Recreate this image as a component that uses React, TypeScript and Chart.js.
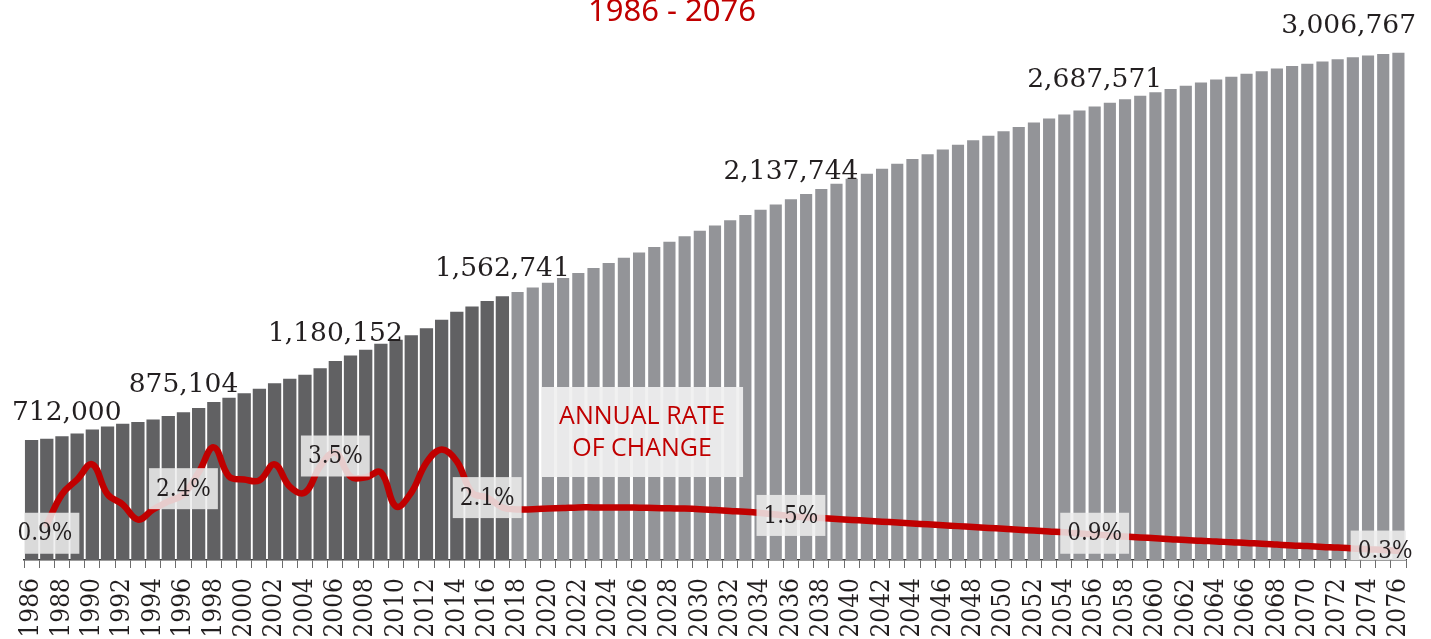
import React, { useEffect, useRef } from "react";
import { Chart, registerables } from "chart.js";

Chart.register(...registerables);

const years = [
  "1986", "1987", "1988", "1989", "1990", "1991", "1992", "1993", "1994", "1995",
  "1996", "1997", "1998", "1999", "2000", "2001", "2002", "2003", "2004", "2005",
  "2006", "2007", "2008", "2009", "2010", "2011", "2012", "2013", "2014", "2015",
  "2016", "2017", "2018", "2019", "2020", "2021", "2022", "2023", "2024", "2025",
  "2026", "2027", "2028", "2029", "2030", "2031", "2032", "2033", "2034", "2035",
  "2036", "2037", "2038", "2039", "2040", "2041", "2042", "2043", "2044", "2045",
  "2046", "2047", "2048", "2049", "2050", "2051", "2052", "2053", "2054", "2055",
  "2056", "2057", "2058", "2059", "2060", "2061", "2062", "2063", "2064", "2065",
  "2066", "2067", "2068", "2069", "2070", "2071", "2072", "2073", "2074", "2075",
  "2076",
];

// 1986 - 2017 (historic)
const historicPopulation = [
  712000, 719000, 733000, 750000, 773000, 792000, 807000, 818000, 833000, 853000,
  875104, 901000, 936000, 962000, 989000, 1015000, 1048000, 1074000, 1098000, 1136000,
  1180152, 1212000, 1246000, 1282000, 1305000, 1332000, 1373000, 1424000, 1471000, 1503000,
  1535000, 1562741,
];

// 2018 - 2076 (projection)
const projectedPopulation = [
  1589000, 1615000, 1643000, 1672000, 1701000, 1731000, 1761000, 1792000, 1823000, 1855000,
  1887000, 1919000, 1951000, 1983000, 2014000, 2045000, 2076000, 2107000, 2137744, 2168700,
  2199500, 2230300, 2260000, 2290000, 2319500, 2348500, 2377000, 2405500, 2433500, 2461000,
  2488500, 2515000, 2541500, 2567000, 2592500, 2617000, 2641000, 2664500, 2687571, 2710000,
  2731500, 2752500, 2773000, 2792500, 2811500, 2830000, 2847500, 2865000, 2881500, 2897500,
  2913000, 2927500, 2941500, 2955000, 2967500, 2979500, 2990500, 2999000, 3006767,
];

// annual rate of change, %
const annualRate = [
  null,
  1.2, 2.21, 2.71, 3.22, 2.21, 1.87, 1.36, 1.7, 1.97, 2.21,
  2.95, 3.79, 2.81, 2.71, 2.68, 3.22, 2.47, 2.27, 3.15, 3.62,
  2.81, 2.78, 2.95, 1.8, 2.27, 3.28, 3.72, 3.32, 2.27, 2.1,
  1.77, 1.7, 1.71, 1.73, 1.75, 1.77, 1.77, 1.77, 1.77, 1.76,
  1.75, 1.74, 1.73, 1.71, 1.68, 1.65, 1.62, 1.58, 1.53, 1.47,
  1.44, 1.41, 1.38, 1.35, 1.32, 1.29, 1.26, 1.23, 1.2, 1.17,
  1.14, 1.11, 1.08, 1.05, 1.02, 0.99, 0.96, 0.93, 0.89, 0.86,
  0.82, 0.79, 0.76, 0.73, 0.7, 0.67, 0.65, 0.62, 0.6, 0.57,
  0.55, 0.52, 0.49, 0.47, 0.44, 0.42, 0.39, 0.36, 0.34, 0.31,
];

const populationLabelYears = ["1986", "1996", "2006", "2017", "2036", "2056", "2076"];
const populationLabelValues = [712000, 875104, 1180152, 1562741, 2137744, 2687571, 3006767];

const rateLabelYears = ["1986", "1996", "2006", "2016", "2036", "2056", "2076"];
const rateLabelValues = [0.9, 2.4, 3.5, 2.1, 1.5, 0.9, 0.3];

const chartTitle = "1986 - 2076";
const rateNoteLines = ["ANNUAL RATE", "OF CHANGE"];
const rateNoteYear = "2026";

const RED = "#c00000";
const INK = "#231f20";
const SERIF = "'DejaVu Serif', serif";
const SERIF_COND = "'DejaVu Serif Condensed', 'DejaVu Serif', serif";

const fmt = (v: number) => v.toLocaleString("en-US");

const overlayPlugin = {
  id: "overlay",
  afterDatasetsDraw(chart: any) {
    const { ctx, chartArea, scales } = chart;
    const xs = scales.x;
    const ys = scales.y;
    const yr = scales.y1;
    ctx.save();

    // rate labels in translucent boxes (boxes clipped to the plot area)
    ctx.font = `24px ${SERIF_COND}`;
    rateLabelYears.forEach((yrLabel, i) => {
      const idx = years.indexOf(yrLabel);
      const text = rateLabelValues[i].toFixed(1) + "%";
      const tw = ctx.measureText(text).width;
      let cx = xs.getPixelForValue(idx);
      cx = Math.min(Math.max(cx, chartArea.left + tw / 2 - 6.5), chartArea.right - tw / 2 + 6.5);
      const cy = yr.getPixelForValue(rateLabelValues[i]);
      ctx.save();
      ctx.beginPath();
      ctx.rect(chartArea.left, chartArea.top, chartArea.right - chartArea.left, chartArea.bottom - chartArea.top);
      ctx.clip();
      ctx.fillStyle = "rgba(238,238,238,0.86)";
      ctx.fillRect(cx - tw / 2 - 7, cy - 20.5, tw + 14, 41);
      ctx.restore();
      ctx.fillStyle = INK;
      ctx.textAlign = "center";
      ctx.textBaseline = "middle";
      ctx.fillText(text, cx, cy + 1);
    });

    // population labels
    ctx.font = `26.5px ${SERIF}`;
    ctx.fillStyle = INK;
    ctx.textAlign = "center";
    ctx.textBaseline = "alphabetic";
    populationLabelYears.forEach((yrLabel, i) => {
      const idx = years.indexOf(yrLabel);
      const text = fmt(populationLabelValues[i]);
      const tw = ctx.measureText(text).width;
      let cx = xs.getPixelForValue(idx);
      cx = Math.min(Math.max(cx, 12 + tw / 2), chart.width - 15 - tw / 2);
      const cy = ys.getPixelForValue(populationLabelValues[i]) - 20;
      ctx.fillText(text, cx, cy);
    });

    // "ANNUAL RATE OF CHANGE" note
    const nx = xs.getPixelForValue(years.indexOf(rateNoteYear)) + 3;
    const boxW = 202;
    const boxH = 90;
    const top = chartArea.bottom - 173;
    ctx.fillStyle = "rgba(240,240,240,0.93)";
    ctx.fillRect(nx - boxW / 2, top, boxW, boxH);
    ctx.fillStyle = RED;
    ctx.font = "25px 'Open Sans', 'Noto Sans', sans-serif";
    ctx.textAlign = "center";
    ctx.textBaseline = "middle";
    ctx.fillText(rateNoteLines[0], nx, top + 30);
    ctx.fillText(rateNoteLines[1], nx, top + 62);

    // title (partly cut off at the top, as in the source)
    ctx.font = "31px 'Noto Sans', sans-serif";
    ctx.fillStyle = RED;
    ctx.textAlign = "center";
    ctx.textBaseline = "alphabetic";
    const tx = (chartArea.left + chartArea.right) / 2 - 43;
    ctx.fillText(chartTitle, tx, 21);

    ctx.restore();
  },
};

export default function App() {
  const canvasRef = useRef<HTMLCanvasElement | null>(null);

  useEffect(() => {
    if (!canvasRef.current) return;
    const H = historicPopulation.length;
    const dark = years.map((_, i) => (i < H ? historicPopulation[i] : null));
    const light = years.map((_, i) => (i >= H ? projectedPopulation[i - H] : null));

    const chart = new Chart(canvasRef.current, {
      type: "bar",
      data: {
        labels: years,
        datasets: [
          {
            type: "line",
            label: "Annual rate of change",
            data: annualRate as any,
            yAxisID: "y1",
            borderColor: RED,
            backgroundColor: RED,
            borderWidth: 6.5,
            pointRadius: 0,
            tension: 0.4,
            borderCapStyle: "round",
            borderJoinStyle: "round",
            order: 0,
          } as any,
          {
            type: "bar",
            label: "Population",
            data: dark as any,
            yAxisID: "y",
            backgroundColor: "#616163",
            barPercentage: 0.875,
            categoryPercentage: 1,
            grouped: false,
            order: 1,
          } as any,
          {
            type: "bar",
            label: "Projection",
            data: light as any,
            yAxisID: "y",
            backgroundColor: "#939498",
            barPercentage: 0.8,
            categoryPercentage: 1,
            grouped: false,
            order: 2,
          } as any,
        ],
      },
      options: {
        animation: false,
        responsive: true,
        maintainAspectRatio: false,
        layout: { padding: { top: 37, left: 24, right: 25, bottom: 0 } },
        plugins: {
          legend: { display: false },
          tooltip: { enabled: false },
          title: { display: false },
        },
        scales: {
          x: {
            offset: true,
            grid: {
              display: true,
              drawOnChartArea: false,
              drawTicks: true,
              tickLength: 8,
              color: "#6d6d6d",
              lineWidth: 1,
              offset: true,
            },
            border: { display: true, color: "#3a3a3a", width: 1.5 },
            ticks: {
              autoSkip: false,
              maxRotation: 90,
              minRotation: 90,
              padding: 10,
              color: INK,
              font: { family: SERIF_COND, size: 26, lineHeight: 0.8 },
              callback: (_v: any, i: number) => (i % 2 === 0 ? years[i] : ""),
            },
            afterFit: (s: any) => {
              s.height = 79;
            },
          },
          y: { display: false, min: 0, max: 3100000 },
          y1: { display: false, min: 0, max: 17.6, position: "right" },
        },
      } as any,
      plugins: [overlayPlugin],
    });
    return () => chart.destroy();
  }, []);

  return (
    <div style={{ position: "fixed", left: 0, top: 0, width: 1431, height: 639, background: "#fff" }}>
      <canvas ref={canvasRef} />
    </div>
  );
}
